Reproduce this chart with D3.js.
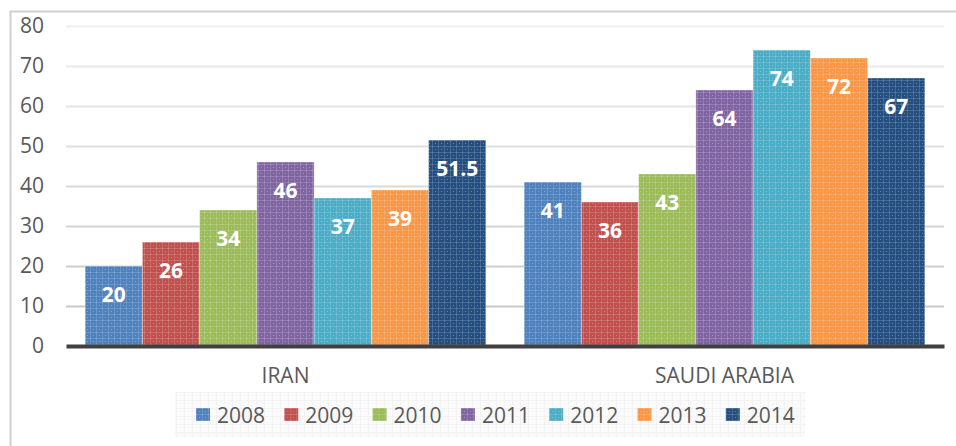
<!DOCTYPE html>
<html>
  <head>
    <title>Iran vs Saudi Arabia</title>
    <script src="https://d3js.org/d3.v7.min.js"></script>
    <style>
      body { margin: 0; background: #ffffff; }
      text { font-family: "Open Sans", "Noto Sans", sans-serif; }
    </style>
  </head>
  <body>
    <svg width="956" height="446" id="mainsvg"></svg>
    <script>
        // data
        const countries = ['IRAN', 'SAUDI ARABIA'];
        const years = ['2008', '2009', '2010', '2011', '2012', '2013', '2014'];
        const iranValues = [20, 26, 34, 46, 37, 39, 51.5];
        const saudiValues = [41, 36, 43, 64, 74, 72, 67];
        const yTicks = [0, 10, 20, 30, 40, 50, 60, 70, 80];

        const colors = ['#4f81bd', '#c0504d', '#9bbb59', '#8064a2', '#4bacc6', '#f79646', '#244e80'];

        const svg = d3.select('#mainsvg');
        const margin = {top: 26, left: 66, right: 12, bottom: 100};
        const plotW = 878, plotH = 320;

        // table for the grouped bars
        const series = [iranValues, saudiValues];
        const rows = [];
        countries.forEach((c, ci) => {
            years.forEach((y, yi) => rows.push({country: c, year: y, value: series[ci][yi], idx: yi}));
        });

        // textured fills (the bars have a fine light grid)
        const defs = svg.append('defs');
        colors.forEach((col, i) => {
            const p = defs.append('pattern')
                .attr('id', 'tex' + i)
                .attr('patternUnits', 'userSpaceOnUse')
                .attr('width', 6).attr('height', 6);
            p.append('rect').attr('width', 6).attr('height', 6).attr('fill', col);
            p.append('rect').attr('x', 0).attr('y', 0).attr('width', 6).attr('height', 1)
                .attr('fill', '#ffffff').attr('opacity', 0.16);
            p.append('rect').attr('x', 0).attr('y', 0).attr('width', 1).attr('height', 6)
                .attr('fill', '#ffffff').attr('opacity', 0.16);
            p.append('rect').attr('x', 3).attr('y', 3).attr('width', 1).attr('height', 1)
                .attr('fill', '#ffffff').attr('opacity', 0.3);
        });
        const lp = defs.append('pattern')
            .attr('id', 'legtex')
            .attr('patternUnits', 'userSpaceOnUse')
            .attr('width', 8).attr('height', 8);
        lp.append('rect').attr('width', 8).attr('height', 8).attr('fill', '#fafafa');
        lp.append('rect').attr('width', 8).attr('height', 1).attr('fill', '#f3f3f3');
        lp.append('rect').attr('width', 1).attr('height', 8).attr('fill', '#f3f3f3');

        // chart border (left and top visible)
        svg.append('path')
            .attr('d', 'M10.5,446 L10.5,11.5 L956,11.5')
            .attr('fill', 'none')
            .attr('stroke', '#d0d0d0')
            .attr('stroke-width', 2);

        const g = svg.append('g')
            .attr('transform', `translate(${margin.left}, ${margin.top})`);

        const x0 = d3.scaleBand().domain(countries).range([0, plotW]).padding(0);
        const x1 = d3.scaleBand().domain(years).range([0, x0.bandwidth()])
            .paddingInner(0).paddingOuter(0.335);
        const yScale = d3.scaleLinear().domain([0, 80]).range([plotH, 0]);

        // gridlines: lighter towards the top
        const gridColor = d3.scaleLinear().domain([10, 80]).range(['#c9c9c9', '#efefef']);
        const yAxis = d3.axisLeft(yScale).tickValues(yTicks).tickSize(-plotW).tickPadding(22);
        const yAxisGroup = g.append('g').call(yAxis);
        yAxisGroup.select('.domain').remove();
        yAxisGroup.selectAll('.tick line')
            .attr('stroke', d => d === 0 ? 'none' : gridColor(d))
            .attr('stroke-width', 2);
        yAxisGroup.selectAll('.tick text')
            .attr('font-size', 21)
            .attr('fill', '#595959')
            .attr('font-family', '"Open Sans", sans-serif');

        // bars
        const bars = g.append('g').selectAll('g.grp').data(countries).join('g')
            .attr('class', 'grp')
            .attr('transform', d => `translate(${x0(d)}, 0)`);
        bars.selectAll('rect')
            .data(c => rows.filter(r => r.country === c))
            .join('rect')
            .attr('x', d => x1(d.year))
            .attr('y', d => yScale(d.value))
            .attr('width', x1.bandwidth())
            .attr('height', d => yScale(0) - yScale(d.value))
            .attr('fill', d => `url(#tex${d.idx})`)
            .attr('stroke', '#ffffff')
            .attr('stroke-opacity', 0.35)
            .attr('stroke-width', 1);
        bars.selectAll('text')
            .data(c => rows.filter(r => r.country === c))
            .join('text')
            .attr('x', d => x1(d.year) + x1.bandwidth() / 2)
            .attr('y', d => yScale(d.value) + 36)
            .attr('text-anchor', 'middle')
            .attr('font-size', 21)
            .attr('font-weight', 'bold')
            .attr('fill', '#ffffff')
            .text(d => d.value);

        // baseline
        const xAxis = d3.axisBottom(x0).tickSize(0).tickPadding(22);
        const xAxisGroup = g.append('g')
            .attr('transform', `translate(0, ${plotH})`)
            .call(xAxis);
        xAxisGroup.select('.domain')
            .attr('stroke', '#404040')
            .attr('stroke-width', 4);
        xAxisGroup.selectAll('.tick text')
            .attr('font-size', 21)
            .attr('fill', '#595959')
            .attr('font-family', '"Open Sans", sans-serif');

        // legend
        const legend = svg.append('g');
        legend.append('rect')
            .attr('x', 175).attr('y', 392)
            .attr('width', 630).attr('height', 45)
            .attr('fill', 'url(#legtex)');
        const li = legend.selectAll('g.item').data(years).join('g')
            .attr('class', 'item')
            .attr('transform', (d, i) => `translate(${196 + i * 88.3}, 408)`);
        li.append('rect')
            .attr('width', 14).attr('height', 13)
            .attr('fill', (d, i) => `url(#tex${i})`);
        li.append('text')
            .attr('x', 21).attr('y', 14.5)
            .attr('font-size', 21)
            .attr('fill', '#595959')
            .text(d => d);
    </script>
  </body>
</html>
